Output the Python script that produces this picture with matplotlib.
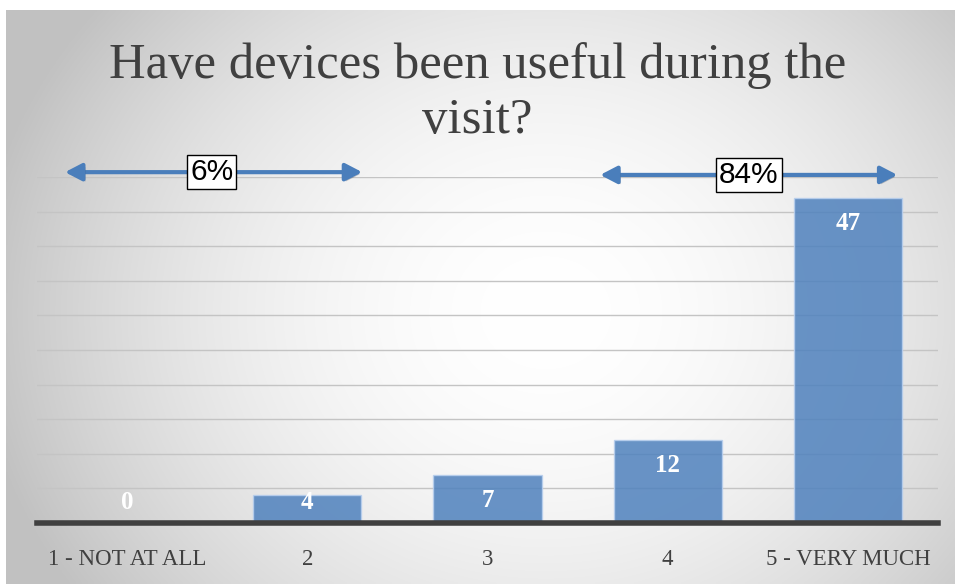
import numpy as np
import matplotlib
matplotlib.use("Agg")
import matplotlib.pyplot as plt
from matplotlib.patches import FancyArrowPatch
import matplotlib.patheffects as pe

categories = ["1 - NOT AT ALL", "2", "3", "4", "5 - VERY MUCH"]
values = [0, 4, 7, 12, 47]
title = "Have devices been useful during the\nvisit?"
low_pct = "6%"
high_pct = "84%"
yticks = [0, 5, 10, 15, 20, 25, 30, 35, 40, 45, 50]

W, H = 955, 584
fig = plt.figure(figsize=(W / 100, H / 100), dpi=100)
fig.patch.set_facecolor("white")

# radial gradient background panel
bg = fig.add_axes([6 / W, 0, 1 - 6 / W, 1 - 10 / H], zorder=-10)
yy, xx = np.mgrid[0:200, 0:300]
cx, cy = 170, 105
r = np.sqrt(((xx - cx) / 300) ** 2 + ((yy - cy) / 200 * 0.7) ** 2)
r = np.clip(r / 0.6, 0, 1)
g = 1.0 - 0.24 * r ** 1.9
img = np.dstack([g, g, g])
bg.imshow(img, aspect="auto", extent=[0, 1, 0, 1], origin="upper", interpolation="bilinear")
bg.set_axis_off()

ax = fig.add_axes([37 / W, 1 - 523 / H, 901 / W, (523 - 177) / H])
ax.set_facecolor("none")
x = np.arange(len(categories))
ax.bar(x, values, width=0.6, color="#4f81bd", alpha=0.85, edgecolor="#b8cfee",
       linewidth=1.0, zorder=2)
ax.set_xlim(-0.5, len(categories) - 0.5)
ax.set_ylim(0, 50)
ax.set_yticks(yticks)
ax.yaxis.grid(True, color="#c4c4c4", linewidth=1.0, zorder=1)
ax.set_axisbelow(True)
ax.tick_params(axis="y", left=False, labelleft=False)
ax.tick_params(axis="x", bottom=False, pad=15)
ax.set_xticks(x)
ax.set_xticklabels(categories, fontsize=16.5, color="#404040", family="Liberation Serif")
for s in ["top", "right", "left"]:
    ax.spines[s].set_visible(False)
ax.spines["bottom"].set_color("#404040")
ax.spines["bottom"].set_linewidth(4)
ax.spines["bottom"].set_zorder(5)

for xi, v in zip(x, values):
    ax.text(xi, max(v - 3.7, 2.9), str(v), ha="center", va="center", color="white",
            fontsize=18, fontweight="bold", family="Liberation Serif", zorder=4)

fig.text(0.5, 1 - 93 / H, title, ha="center", va="center", fontsize=36.5,
         color="#404040", family="Liberation Serif", linespacing=1.25)

arrow_color = "#4a7ebb"
shadow = [pe.SimplePatchShadow(offset=(1.5, -1.5), alpha=0.25), pe.Normal()]
for (x0, x1, yv, lab, lx) in [(-0.36, 1.32, 50.7, low_pct, 0.47),
                               (2.61, 4.29, 50.3, high_pct, 3.45)]:
    arr = FancyArrowPatch((x0, yv), (x1, yv), arrowstyle="<|-|>,head_length=5,head_width=2.6",
                          mutation_scale=2.0, color=arrow_color, linewidth=3.0,
                          clip_on=False, zorder=6, path_effects=shadow)
    ax.add_patch(arr)
    ax.text(lx, yv, lab, ha="center", va="center", fontsize=21.5, family="Liberation Sans",
            color="black", zorder=7, clip_on=False,
            bbox=dict(boxstyle="square,pad=0.1", facecolor="white", edgecolor="black", linewidth=1.0))

fig.savefig("out.png", dpi=100)
